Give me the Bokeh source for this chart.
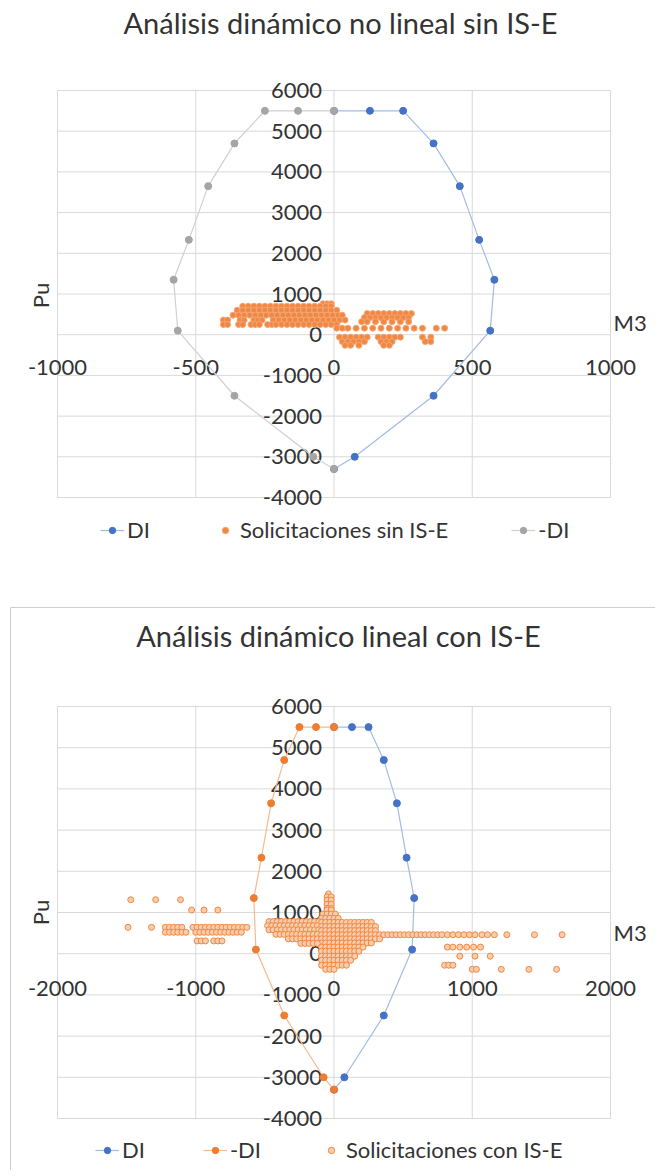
import math
from bokeh.plotting import figure
from bokeh.models import Range1d, Legend, LegendItem
from bokeh.core.properties import value
from bokeh.layouts import column
from bokeh.embed import file_html
from bokeh.resources import INLINE

FONT = "Lato"
TXT = "#333333"
GRID = "#d9d9d9"

# ---------------- axis ticks ----------------
pu_ticks = [-4000, -3000, -2000, -1000, 0, 1000, 2000, 3000, 4000, 5000, 6000]
pu_tick_labels = ["-4000", "-3000", "-2000", "-1000", "0", "1000", "2000",
                  "3000", "4000", "5000", "6000"]
m3_ticks_top = [-1000, -500, 0, 500, 1000]
m3_tick_labels_top = ["-1000", "-500", "0", "500", "1000"]
m3_ticks_bot = [-2000, -1000, 0, 1000, 2000]
m3_tick_labels_bot = ["-2000", "-1000", "0", "1000", "2000"]

# ---------------- interaction diagram ----------------
di_m3 = [0, 130, 250, 360, 455, 525, 580, 565, 360, 75, 0]
di_pu = [5500, 5500, 5500, 4700, 3650, 2330, 1350, 100, -1500, -3000, -3300]
neg_di_m3 = [0, -130, -250, -360, -455, -525, -580, -565, -360, -75, 0]
neg_di_pu = [5500, 5500, 5500, 4700, 3650, 2330, 1350, 100, -1500, -3000, -3300]

# ---------------- Solicitaciones sin IS-E (rows) ----------------
sin_rows_pu = [760, 700, 600, 480, 360, 250, 160, 520, 420, 320, -60, -170, -260]
sin_rows_m3 = [
    [-40, -25, -10],
    [-330, -310, -290, -270, -250, -230, -210, -190, -170, -150, -130, -110, -90, -70, -50, -30, -10],
    [-350, -330, -310, -290, -270, -250, -230, -210, -190, -170, -150, -130, -110, -90, -70, -50, -30, -10, 10],
    [-365, -345, -325, -305, -285, -265, -245, -225, -205, -185, -165, -145, -125, -105, -85, -65, -45, -25, -5, 15, 30],
    [-400, -385, -340, -325, -290, -275, -260, -220, -200, -180, -160, -140, -120, -100, -80, -60, -40, -20, 0, 20, 40],
    [-400, -385, -345, -330, -300, -285, -270, -240, -225, -210, -190, -170, -150, -130, -110, -90, -70, -50, -30, -10, 10],
    [10, 30, 50, 80, 110, 140, 170, 200, 230, 260, 290, 320, 370, 400],
    [120, 140, 160, 180, 200, 220, 240, 260, 280],
    [110, 130, 150, 170, 190, 210, 230, 250, 270],
    [100, 120, 150, 180, 210, 240, 270],
    [20, 40, 60, 80, 100, 120, 160, 180, 200, 220, 240, 320, 350],
    [30, 50, 70, 90, 110, 170, 190, 210, 330, 350],
    [40, 60, 90, 180, 200],
]

# ---------------- Solicitaciones con IS-E (rows) ----------------
con_rows_pu = [1450, 1380, 1300, 1200, 1100, 1310, 1060, 960, 860,
               780, 760, 680, 660, 640, 580, 560, 520, 470, 460,
               360, 310, 260, 250, 160, 60, -60, -160, -280, -380]
con_rows_m3 = [
    [-40],
    [-50, -20],
    [-50, -20],
    [-50, -20],
    [-50, -20],
    [-1470, -1290, -1110],
    [-1030, -940, -840, -50, -20],
    [-80, -50, -20, 10],
    [-90, -60, -30, 0, 30],
    [-470, -440, -410, -380, -350, -320, -290, -260, -230, -200, -170, -140, -110],
    [-90, -60, -30, 0, 30, 60, 90, 120, 150, 180, 210, 240, 270],
    [-480, -450, -420, -390, -360, -330, -300, -270, -240, -210, -180, -150, -120],
    [-90, -60, -30, 0, 30, 60, 90, 120, 150, 180, 210, 240, 270, 300],
    [-1490, -1320, -1220, -1190, -1160, -1130, -1100, -1020, -990, -960, -930, -900,
     -870, -840, -810, -780, -750, -720, -690, -660, -630],
    [-470, -440, -410, -380, -350, -320, -290, -260, -230, -200, -170, -140, -110],
    [-90, -60, -30, 0, 30, 60, 90, 120, 150, 180, 210, 240, 270, 300],
    [-1220, -1190, -1160, -1130, -1100, -1070, -1000, -970, -940, -910, -880, -850,
     -820, -790, -760, -730, -700, -670],
    [-420, -390, -360, -330, -300, -270, -240, -210, -180, -150, -120],
    [-90, -60, -30, 0, 30, 60, 90, 120, 150, 180, 210, 240, 270, 300, 330, 360,
     390, 420, 450, 480, 510, 540, 570, 600, 630, 660, 690, 720, 750, 780,
     820, 860, 900, 940, 980, 1020, 1070, 1110, 1160, 1250, 1450, 1650],
    [-330, -300, -270, -240, -210, -180, -150, -120, -90, -60, -30, 0, 30, 60, 90,
     120, 150, 180, 210, 240, 270, 300, 330],
    [-990, -960, -930, -870, -840, -810],
    [-90, -60, -30, 0, 30, 60, 90, 120, 150, 180, 210, 240, 270],
    [-240, -210, -180, -150, -120],
    [-90, -60, -30, 0, 30, 60, 90, 120, 150, 180, 210, 820, 860, 910, 960, 1010, 1060],
    [-90, -60, -30, 0, 30, 60, 90, 120, 150, 180],
    [-90, -60, -30, 0, 30, 60, 90, 120, 150, 910, 1020, 1130],
    [-90, -60, -30, 0, 30, 60, 90, 120],
    [-90, -60, -30, 0, 30, 60, 90, 800, 830, 860],
    [-60, -30, 0, 1000, 1030, 1210, 1410, 1610],
]


def flatten(x_rows, y_rows):
    xs, ys = [], []
    for yv, row in zip(y_rows, x_rows):
        for xv in row:
            xs.append(xv)
            ys.append(yv)
    return xs, ys


sin_m3, sin_pu = flatten(sin_rows_m3, sin_rows_pu)
con_m3, con_pu = flatten(con_rows_m3, con_rows_pu)

BLUE = "#4472C4"
BLUE_L = "#A2BBE6"
ORANGE = "#ED7D31"
ORANGE_L = "#F6B990"
GRAY = "#A5A5A5"
GRAY_L = "#D0D0D0"
TICK_FS = "22px"


def make_chart(W, H, box, xticks, xlabels, title, title_pos, pu_pos, m3_pos, xlab_dy):
    """box = (left, right, top, bottom) of the plot area in canvas pixels."""
    L, R, T, B = box
    x0, x1 = xticks[0], xticks[-1]
    y0, y1 = pu_ticks[0], pu_ticks[-1]
    kx = (R - L) / (x1 - x0)
    ky = (B - T) / (y1 - y0)
    xs = x0 - L / kx
    xe = x1 + (W - R) / kx
    ye = y1 + T / ky
    ys = y0 - (H - B) / ky
    p = figure(width=W, height=H, x_range=Range1d(xs, xe), y_range=Range1d(ys, ye),
               x_axis_location=None, y_axis_location=None, toolbar_location=None,
               output_backend="svg", min_border=0)
    p.outline_line_color = None
    p.background_fill_color = "white"
    p.border_fill_color = "white"
    for g in p.grid:
        g.visible = False

    def px(v):
        return xs + v / kx

    def py(v):
        return ye - v / ky

    # gridlines (plot-area box included)
    p.segment(x0=xticks, y0=[y0] * len(xticks), x1=xticks, y1=[y1] * len(xticks),
              line_color=GRID, line_width=1)
    p.segment(x0=[x0] * len(pu_ticks), y0=pu_ticks, x1=[x1] * len(pu_ticks), y1=pu_ticks,
              line_color=GRID, line_width=1)

    # tick labels next to the axes through the origin
    zero_px = L + (0 - x0) * kx
    zero_py = T + (y1 - 0) * ky
    p.text(x=[px(zero_px - 12)] * len(pu_ticks), y=pu_ticks, text=pu_tick_labels,
           text_align="right", text_baseline="middle", text_font=value(FONT),
           text_font_size=value(TICK_FS), text_color=TXT)
    p.text(x=xticks, y=[py(zero_py + xlab_dy)] * len(xticks), text=xlabels,
           text_align="center", text_baseline="middle", text_font=value(FONT),
           text_font_size=value(TICK_FS), text_color=TXT)

    # titles
    p.text(x=[px(title_pos[0])], y=[py(title_pos[1])], text=[title],
           text_align="center", text_baseline="middle", text_font=value(FONT),
           text_font_size=value("29px"), text_color=TXT)
    p.text(x=[px(pu_pos[0])], y=[py(pu_pos[1])], text=["Pu"], angle=math.pi / 2,
           text_align="center", text_baseline="middle", text_font=value(FONT),
           text_font_size=value(TICK_FS), text_color=TXT)
    p.text(x=[px(m3_pos[0])], y=[py(m3_pos[1])], text=["M3"],
           text_align="left", text_baseline="middle", text_font=value(FONT),
           text_font_size=value(TICK_FS), text_color=TXT)
    return p, px, py


def add_legend(p, items, x, y_from_bottom, spacing):
    lg = Legend(items=items, orientation="horizontal", location=(x, y_from_bottom),
                label_text_font=FONT, label_text_font_size=TICK_FS,
                label_text_color=TXT, spacing=spacing, glyph_width=24,
                glyph_height=16, label_standoff=3, padding=0, margin=0,
                border_line_color=None, background_fill_alpha=0)
    p.add_layout(lg)


# ---------------- chart 1 ----------------
W = 655
H1 = 600
p1, px1, py1 = make_chart(W, H1, (57, 610, 90, 497), m3_ticks_top, m3_tick_labels_top,
                          "Análisis dinámico no lineal sin IS-E", (340, 22),
                          (40, 295), (613, 322), 33)
l1 = p1.line(di_m3, di_pu, line_color=BLUE_L, line_width=1.2)
s1 = p1.scatter(di_m3, di_pu, marker="circle", size=7, fill_color=BLUE, line_color=BLUE)
s2 = p1.scatter(sin_m3, sin_pu, marker="circle", size=6, fill_color="#F08844",
                line_color="#F5A673", line_width=1)
l3 = p1.line(neg_di_m3, neg_di_pu, line_color=GRAY_L, line_width=1.2)
s3 = p1.scatter(neg_di_m3, neg_di_pu, marker="circle", size=7, fill_color=GRAY, line_color=GRAY)
add_legend(p1, [LegendItem(label="DI", renderers=[l1, s1]),
                LegendItem(label="Solicitaciones sin IS-E", renderers=[s2]),
                LegendItem(label="-DI", renderers=[l3, s3])], 100, H1 - 543, 63)

# ---------------- chart 2 ----------------
H2 = 570
p2, px2, py2 = make_chart(W, H2, (57, 610, 106, 518), m3_ticks_bot, m3_tick_labels_bot,
                          "Análisis dinámico lineal con IS-E", (338, 35),
                          (40, 312), (613, 332), 35)
# chart-area border
p2.segment(x0=[px2(10), px2(10)], y0=[py2(7), py2(7)], x1=[px2(W), px2(10)],
           y1=[py2(7), py2(H2)], line_color="#cfcfcf", line_width=1)
m1 = p2.line(di_m3, di_pu, line_color=BLUE_L, line_width=1.2)
n1 = p2.scatter(di_m3, di_pu, marker="circle", size=7, fill_color=BLUE, line_color=BLUE)
m2 = p2.line(neg_di_m3, neg_di_pu, line_color=ORANGE_L, line_width=1.2)
n2 = p2.scatter(neg_di_m3, neg_di_pu, marker="circle", size=7, fill_color=ORANGE, line_color=ORANGE)
n3 = p2.scatter(con_m3, con_pu, marker="circle", size=6, fill_color="#F9CCAA",
                line_color="#F08844", line_width=1)
add_legend(p2, [LegendItem(label="DI", renderers=[m1, n1]),
                LegendItem(label="-DI", renderers=[m2, n2]),
                LegendItem(label="Solicitaciones con IS-E", renderers=[n3])], 95, H2 - 563, 58)

layout = column(p1, p2)
open("out.html", "w").write(file_html(layout, INLINE))
